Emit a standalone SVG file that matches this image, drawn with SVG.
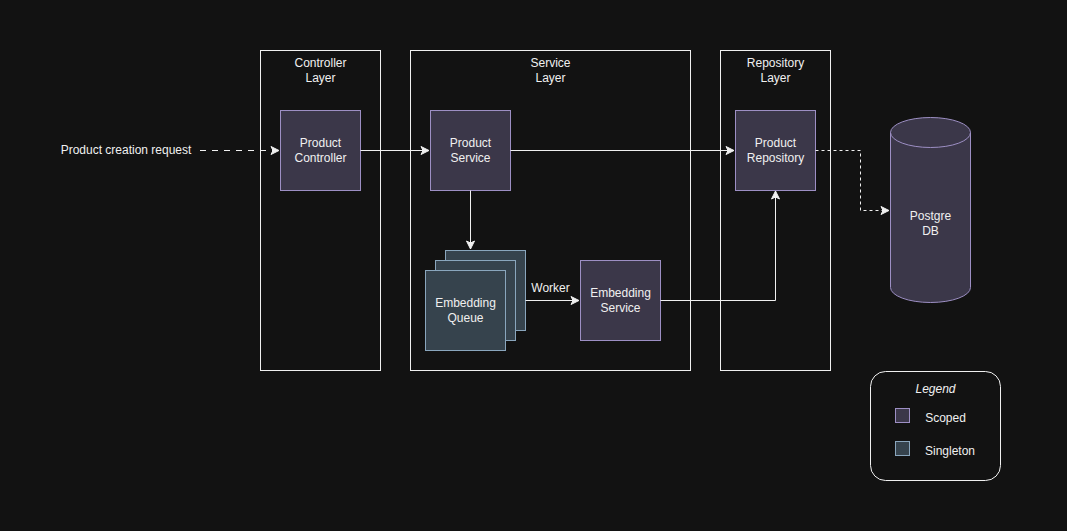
<svg xmlns="http://www.w3.org/2000/svg" width="1067" height="531" viewBox="0 0 1067 531">
<defs>
<marker id="arr" viewBox="0 0 10 10" refX="9" refY="5" markerWidth="10" markerHeight="10" markerUnits="userSpaceOnUse" orient="auto">
<path d="M1,1 L9,5 L1,9 L3,5 Z" fill="#f0f0f0" stroke="#f0f0f0" stroke-width="1"/>
</marker>
</defs>
<style>
text{font-family:"Liberation Sans",Arial,sans-serif;font-size:12px;fill:#f0f0f0;text-anchor:middle}
.layer{fill:none;stroke:#f0f0f0;stroke-width:1}
.scoped{fill:#3b3749;stroke:#9d8fc4;stroke-width:1}
.single{fill:#36434d;stroke:#8aa6bd;stroke-width:1}
.edge{fill:none;stroke:#f0f0f0;stroke-width:1;marker-end:url(#arr)}
.dash{stroke-dasharray:6 6}
.dot{stroke-dasharray:3 3}
</style>
<rect width="1067" height="531" fill="#121212"/>
<g id="controller-layer"><rect class="layer" x="260.5" y="50.5" width="120" height="320"/><text x="320.5" y="67">Controller</text><text x="320.5" y="82">Layer</text></g>
<g id="service-layer"><rect class="layer" x="410.5" y="50.5" width="280" height="320"/><text x="550.5" y="67">Service</text><text x="550.5" y="82">Layer</text></g>
<g id="repository-layer"><rect class="layer" x="720.5" y="50.5" width="110" height="320"/><text x="775.5" y="67">Repository</text><text x="775.5" y="82">Layer</text></g>
<g id="request-label"><text x="126" y="154">Product creation request</text></g>
<g id="product-controller"><rect class="scoped" x="280.5" y="110.5" width="80" height="80"/><text x="320.5" y="147">Product</text><text x="320.5" y="162">Controller</text></g>
<g id="product-service"><rect class="scoped" x="430.5" y="110.5" width="80" height="80"/><text x="470.5" y="147">Product</text><text x="470.5" y="162">Service</text></g>
<g id="product-repository"><rect class="scoped" x="735.5" y="110.5" width="80" height="80"/><text x="775.5" y="147">Product</text><text x="775.5" y="162">Repository</text></g>
<g id="embedding-queue"><rect class="single" x="445.5" y="250.5" width="80" height="80"/><rect class="single" x="435.5" y="260.5" width="80" height="80"/><rect class="single" x="425.5" y="270.5" width="80" height="80"/><text x="465.5" y="307">Embedding</text><text x="465.5" y="322">Queue</text></g>
<g id="embedding-service"><rect class="scoped" x="580.5" y="260.5" width="80" height="80"/><text x="620.5" y="297">Embedding</text><text x="620.5" y="312">Service</text></g>
<g id="postgre-db"><path class="scoped" d="M890.5,132.5 A40,15 0 0 1 970.5,132.5 L970.5,287.5 A40,15 0 0 1 890.5,287.5 Z"/><path d="M890.5,132.5 A40,15 0 0 0 970.5,132.5" fill="none" stroke="#9d8fc4"/><text x="930.5" y="220">Postgre</text><text x="930.5" y="235">DB</text></g>
<g id="legend"><rect x="870.5" y="371.5" width="130" height="109" rx="15" ry="15" fill="none" stroke="#f0f0f0"/><text x="935.5" y="393" font-style="italic">Legend</text><rect class="scoped" x="895.5" y="408.5" width="14" height="14"/><text x="945.5" y="422">Scoped</text><rect class="single" x="895.5" y="441.5" width="14" height="14"/><text x="950" y="455">Singleton</text></g>
<g id="connectors">
<path class="edge dash" d="M200,150.5 H279"/>
<path class="edge" d="M360.5,150.5 H429"/>
<path class="edge" d="M510.5,150.5 H734"/>
<path class="edge" d="M470.5,190.5 V249"/>
<path class="edge" d="M525.5,300.5 H579"/>
<text x="550.5" y="292">Worker</text>
<path class="edge" d="M660.5,300.5 H775.5 V191"/>
<path class="edge dot" d="M815.5,150.5 H860.5 V210.5 H889"/>
</g>
</svg>
